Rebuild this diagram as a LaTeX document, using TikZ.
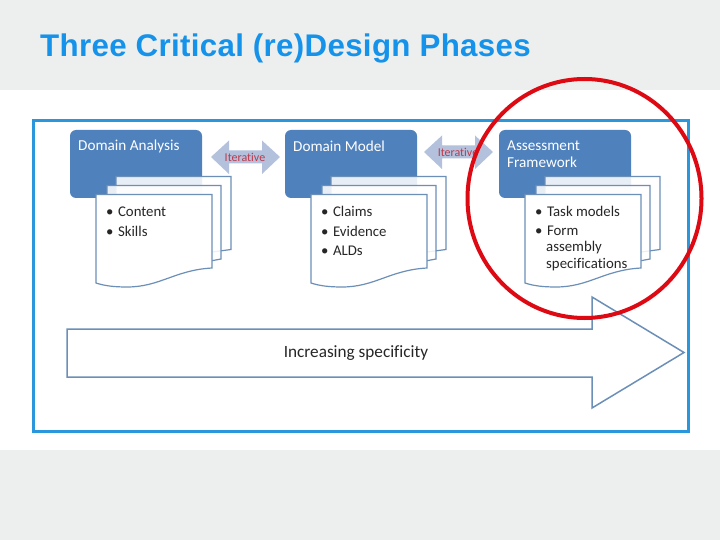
\documentclass[tikz,border=0pt]{standalone}
\usepackage{fontspec}
\setmainfont[Ligatures=NoCommon]{Carlito}
\newfontfamily\titlefont[LetterSpace=1]{Liberation Sans}
\usetikzlibrary{calc}
\definecolor{slidegrey}{HTML}{EDEFEE}
\definecolor{titleblue}{HTML}{1592EA}
\definecolor{framblue}{HTML}{2A96DC}
\definecolor{boxblue}{HTML}{4F81BD}
\definecolor{pageline}{HTML}{6C8FB8}
\definecolor{iterblue}{HTML}{B3C1DD}
\definecolor{iterred}{HTML}{C0384A}
\definecolor{ringred}{HTML}{DD0A14}
\tikzset{
	phasebox/.style={fill=boxblue, rounded corners=6pt},
	pageback/.style={draw=pageline, line width=1.2pt, fill=white, fill opacity=0.87},
	pagefront/.style={draw=pageline, line width=1.2pt, fill=white},
	headtext/.style={anchor=west, text=white, font=\fontsize{15.2}{18}\selectfont, inner sep=0pt, align=left},
	itemtext/.style={anchor=west, text=black!85, font=\fontsize{14.8}{17}\selectfont, inner sep=0pt},
	itertext/.style={text=iterred, font=\fontsize{12}{14}\selectfont, inner sep=0pt},
}
\def\pagestack#1{
	\begin{scope}[xshift=#1]
		\fill[phasebox] (70, 130) rectangle (202, 198);
		\draw[pageback] (116, 176.5) -- (231, 176.5) -- (231, 249.5) -- (212, 252) -- (116, 252) -- cycle;
		\draw[pageback] (107, 185.5) -- (221, 185.5) -- (221, 259) -- (205, 262) -- (107, 262) -- cycle;
		\draw[pagefront] (96, 194.5) -- (212, 194.5) -- (212, 268) .. controls (175, 270) and (160, 287) .. (127, 287) .. controls (115, 287) and (105, 286) .. (96, 283) -- cycle;
	\end{scope}
}
\begin{document}
\begin{tikzpicture}[x=1pt, y=-1pt]
	%%%%% START %%%%%

	\useasboundingbox (0, 0) rectangle (720, 540);
	\fill[slidegrey] (0, 0) rectangle (720, 540);
	\fill[white] (0, 90) rectangle (720, 450);

	\node[anchor=base west, inner sep=0pt, text=titleblue] (title) at (40, 57) {\titlefont\bfseries\fontsize{31.3}{34}\selectfont Three Critical (re)Design Phases};

	\draw[draw=framblue, line width=3pt] (33, 121) rectangle (688, 431);

	\pagestack{0pt}
	\pagestack{215pt}
	\pagestack{429pt}

	\node[headtext] (analysis) at (78, 146) {Domain Analysis};
	\node[headtext] (model) at (293, 146) {Domain Model};
	\node[headtext] (framework) at (507, 146) {Assessment};
	\node[headtext] (framework2) at (507, 162.5) {Framework};

	\node[itemtext] (content) at (106, 211.5) {\textbullet\hspace{4.5pt}Content};
	\node[itemtext] (skills) at (106, 231) {\textbullet\hspace{4.5pt}Skills};

	\node[itemtext] (claims) at (321, 211.5) {\textbullet\hspace{4.5pt}Claims};
	\node[itemtext] (evidence) at (321, 231) {\textbullet\hspace{4.5pt}Evidence};
	\node[itemtext] (alds) at (321, 250.5) {\textbullet\hspace{4.5pt}ALDs};

	\node[itemtext] (tasks) at (535, 211.5) {\textbullet\hspace{4.5pt}Task models};
	\node[itemtext] (form) at (535, 231) {\textbullet\hspace{4.5pt}Form};
	\node[itemtext] (assembly) at (546, 248) {assembly};
	\node[itemtext] (specs) at (546, 264.5) {specifications};

	% iterative arrows
	\fill[iterblue] (211, 157) -- (229, 140.5) -- (229, 150.5) -- (262, 150.5) -- (262, 140.5) -- (280, 157) -- (262, 174) -- (262, 163.5) -- (229, 163.5) -- (229, 174) -- cycle;
	\fill[iterblue] (424, 152) -- (442, 135.5) -- (442, 145.5) -- (475, 145.5) -- (475, 135.5) -- (493, 152) -- (475, 169) -- (475, 158.5) -- (442, 158.5) -- (442, 169) -- cycle;
	\node[itertext] (iterleft) at (245, 157) {Iterative};
	\node[itertext] (iterright) at (458, 152) {Iterative};

	% specificity arrow
	\draw[draw=pageline, line width=1.5pt, fill=white] (67, 329) -- (592, 329) -- (592, 297) -- (684, 352.5) -- (592, 408) -- (592, 377) -- (67, 377) -- cycle;
	\node[text=black!85, font=\fontsize{17.2}{20}\selectfont, inner sep=0pt] (specific) at (356, 353) {Increasing specificity};

	\draw[draw=ringred, line width=4pt] (584.5, 198.5) ellipse (117 and 119.5);

	%%%%% END %%%%%
\end{tikzpicture}
\end{document}
